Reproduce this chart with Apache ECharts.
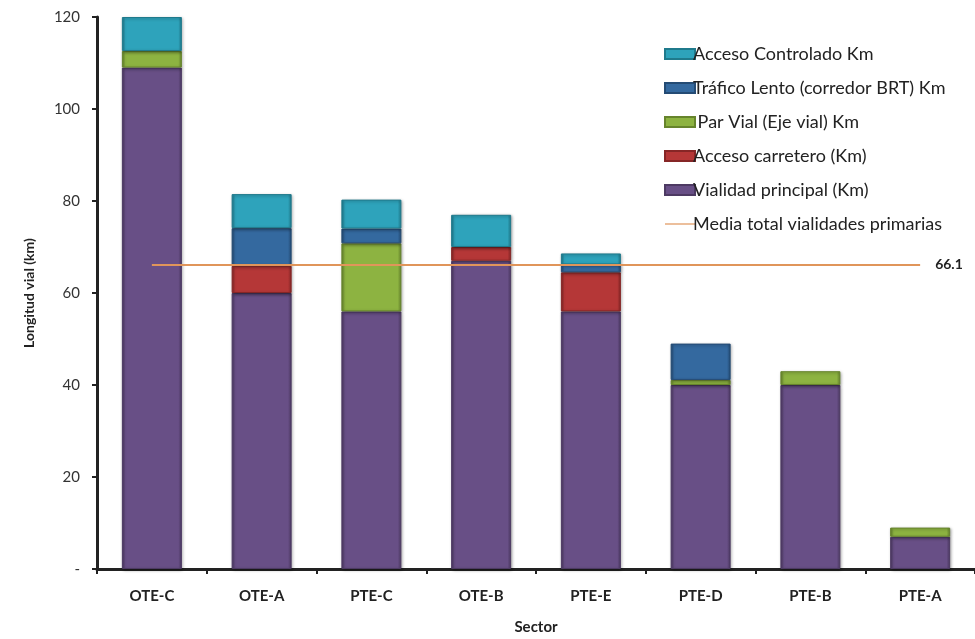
<!DOCTYPE html>
<html>
<head>
<meta charset="utf-8">
<script src="https://cdn.jsdelivr.net/npm/echarts@6/dist/echarts.min.js"></script>
<style>
  html, body { margin: 0; padding: 0; background: #fff; }
  #chart { width: 975px; height: 639px; }
</style>
</head>
<body>
<div id="chart"></div>
<script>
// sectores y longitudes (km)
var sectors = ['OTE-C', 'OTE-A', 'PTE-C', 'OTE-B', 'PTE-E', 'PTE-D', 'PTE-B', 'PTE-A'];
var vialidadPrincipal = [109, 60, 56, 67, 56, 40, 40, 7];
var accesoCarretero   = [0, 5.9, 0, 3, 8.5, 0, 0, 0];
var parVial           = [3.6, 0, 14.8, 0, 0, 1.1, 3, 2];
var traficoLento      = [0, 8.2, 3.2, 0, 1.7, 7.9, 0, 0];
var accesoControlado  = [7.4, 7.4, 6.3, 7, 2.4, 0, 0, 0];
var mediaTotal = 66.1;
var yTicks = ['-', '20', '40', '60', '80', '100', '120'];

var chart = echarts.init(document.getElementById('chart'));

function barSeries(name, data, color, border) {
  return {
    name: name,
    type: 'bar',
    stack: 'total',
    barWidth: 60,
    data: data.map(function (v) { return v === 0 ? null : v; }),
    itemStyle: {
      color: new echarts.graphic.LinearGradient(0, 0, 1, 0, [
        { offset: 0, color: border },
        { offset: 0.06, color: color },
        { offset: 0.94, color: color },
        { offset: 1, color: border }
      ]),
      borderColor: border,
      borderWidth: 1,
      shadowColor: 'rgba(0,0,0,0.35)',
      shadowBlur: 3,
      shadowOffsetX: 1,
      shadowOffsetY: 1
    }
  };
}

var option = {
  backgroundColor: '#fff',
  textStyle: { fontFamily: 'Lato, "Open Sans", sans-serif' },
  animation: false,
  grid: { left: 97, right: 0, top: 17, bottom: 70, outerBoundsMode: 'none', containLabel: false },
  legend: {
    orient: 'vertical',
    left: 659,
    top: 40,
    itemWidth: 30,
    itemHeight: 10,
    itemGap: 16,
    textStyle: { fontSize: 18, color: '#222', padding: [0, 0, 0, -7] },
    data: [
      { name: 'Acceso Controlado Km', icon: 'rect' },
      { name: 'Tráfico Lento (corredor BRT) Km', icon: 'rect' },
      { name: ' Par Vial (Eje vial) Km', icon: 'rect' },
      { name: 'Acceso carretero (Km)', icon: 'rect' },
      { name: 'Vialidad principal (Km)', icon: 'rect' },
      { name: 'Media total vialidades primarias', icon: 'path://M0,0 M30,10 M0,4.4 L30,4.4 L30,5.6 L0,5.6 Z' }
    ]
  },
  xAxis: {
    type: 'category',
    data: sectors,
    name: 'Sector',
    nameLocation: 'middle',
    nameGap: 51,
    nameTextStyle: { fontSize: 15, fontWeight: 'bold', color: '#222', verticalAlign: 'top' },
    axisLine: { lineStyle: { color: '#222', width: 3 } },
    axisTick: { show: true, length: 5, lineStyle: { color: '#222', width: 2 } },
    axisLabel: { fontSize: 15, fontWeight: 'bold', color: '#222', margin: 20 }
  },
  yAxis: {
    type: 'value',
    min: 0,
    max: 120,
    interval: 20,
    name: 'Longitud vial (km)',
    nameLocation: 'middle',
    nameGap: 61,
    nameTextStyle: { fontSize: 14, fontWeight: 'bold', color: '#222' },
    axisLine: { show: true, lineStyle: { color: '#222', width: 3 } },
    axisTick: { show: true, length: 5, lineStyle: { color: '#222', width: 2 } },
    splitLine: { show: false },
    axisLabel: {
      fontSize: 15,
      color: '#333',
      margin: 17,
      formatter: function (v) { return yTicks[v / 20]; }
    }
  },
  series: [
    barSeries('Vialidad principal (Km)', vialidadPrincipal, '#684f86', '#4d3a63'),
    barSeries('Acceso carretero (Km)', accesoCarretero, '#b53737', '#862626'),
    barSeries(' Par Vial (Eje vial) Km', parVial, '#8db341', '#66842c'),
    barSeries('Tráfico Lento (corredor BRT) Km', traficoLento, '#34699f', '#244b74'),
    barSeries('Acceso Controlado Km', accesoControlado, '#2ea3bb', '#1f7a8c'),
    {
      name: 'Media total vialidades primarias',
      type: 'line',
      symbol: 'none',
      data: sectors.map(function () { return mediaTotal; }),
      lineStyle: { color: '#e0955a', width: 2 },
      itemStyle: { color: '#e0955a' },
      endLabel: {
        show: true,
        formatter: function () { return mediaTotal.toFixed(1); },
        fontSize: 14,
        fontWeight: 'bold',
        color: '#222',
        distance: 15
      },
      z: 5
    }
  ]
};

chart.setOption(option);
</script>
</body>
</html>
